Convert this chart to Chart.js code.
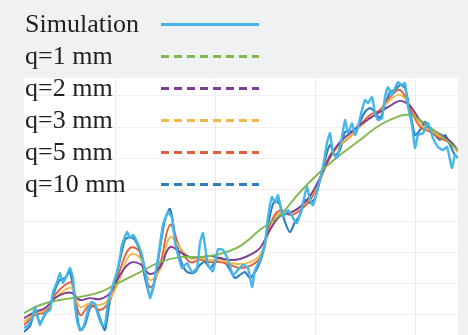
<!DOCTYPE html>
<html>
<head>
<meta charset="utf-8">
<script src="https://cdn.jsdelivr.net/npm/chart.js@4.4.1/dist/chart.umd.min.js"></script>
<style>
  html, body { margin: 0; padding: 0; background: #f0f1f3; }
  #wrap { width: 468px; height: 335px; position: relative; }
</style>
</head>
<body>
<div id="wrap"><canvas id="chart" width="468" height="335"></canvas></div>
<script>
// Series labels
const seriesLabels = ['Simulation', 'q=1 mm', 'q=2 mm', 'q=3 mm', 'q=5 mm', 'q=10 mm'];

// Simulation signal
const simX = [9,13,17,20,23,25,28,30,35,38,42,45,48,52,55,58,60,63,67,70,73,77,80,83,87,90,93,97,100,102,105,107,112,115,118,122,127,132,135,138,143,148,153,157,160,163,167,172,177,182,185,188,190,193,198,203,208,213,218,223,228,233,237,240,245,250,253,257,260,263,268,273,278,282,287,292,295,298,303,308,312,315,318,322,327,330,333,337,340,343,347,350,353,357,360,363,367,370,373,377,380,383,387,390,393,397,400,403,408,413,418,423,428,432,435,437,440,443];
const simY = [-0.42,-0.32,-0.10,0.26,-0.10,-0.32,-0.10,0.06,0.16,0.73,1.05,1.34,1.02,1.28,1.50,1.18,0.32,-0.32,-0.48,-0.22,0.16,0.42,0.35,0.00,-0.32,-0.32,0.42,0.86,1.18,1.37,1.85,2.24,2.65,2.46,2.56,2.33,1.92,1.05,0.54,0.86,1.82,2.88,3.29,3.10,2.33,1.92,1.50,1.66,1.37,1.50,2.30,2.62,2.20,1.60,1.40,2.10,2.08,1.76,1.28,1.44,1.60,1.50,0.89,1.44,1.76,2.30,3.13,3.77,3.58,3.83,3.13,3.35,3.10,2.94,3.45,4.09,3.67,3.51,4.09,4.73,5.50,5.81,5.18,5.02,5.69,6.23,5.81,6.13,5.75,6.01,6.55,6.87,6.77,6.96,6.45,6.23,6.29,6.96,7.28,7.03,7.25,7.44,7.35,7.41,6.65,6.07,5.34,5.75,5.81,6.13,5.65,5.37,5.27,5.37,4.95,4.70,5.11,5.02];

// q = 10 mm
const q10X = [9,15,20,25,30,35,40,45,50,55,60,65,70,75,80,85,90,95,100,105,110,115,120,125,130,135,140,145,150,155,160,165,170,175,180,185,190,195,200,205,210,215,220,225,230,235,240,245,250,255,260,265,270,275,280,285,290,295,300,305,310,315,320,325,330,335,340,345,350,355,360,365,370,375,380,385,390,395,400,405,410,415,420,425,430,435,440,443];
const q10Y = [-0.54,-0.35,0.10,-0.22,0.00,0.29,0.80,1.12,1.18,1.37,0.48,-0.48,-0.32,0.22,0.32,-0.10,-0.48,0.48,1.05,1.76,2.40,2.49,2.40,2.01,1.18,0.61,1.12,2.14,3.04,3.39,2.56,1.82,1.44,1.34,1.37,1.60,1.69,1.50,1.69,1.82,1.69,1.44,1.18,1.28,1.37,1.18,1.37,1.69,2.24,3.19,3.67,3.51,2.97,2.65,2.97,3.19,3.67,3.58,3.74,4.31,4.95,5.43,5.11,5.27,5.85,5.85,5.91,6.17,6.49,6.61,6.49,6.29,6.71,7.12,7.19,7.35,7.25,6.55,5.75,5.91,6.17,5.91,5.75,5.59,5.75,5.43,5.11,5.02];

// q = 5, 3, 2 mm share one sampling grid
const qMidX = [9,20,30,40,50,57,65,75,85,95,105,115,125,135,145,155,165,175,185,195,205,215,225,235,245,255,265,275,285,295,305,315,325,335,345,355,365,375,385,395,405,415,425,435,443];
const q5Y = [-0.32,0.00,0.10,0.64,0.96,1.02,0.00,0.32,0.16,0.48,1.44,2.14,2.01,0.89,1.60,2.88,2.14,1.69,1.76,1.69,1.69,1.60,1.50,1.57,1.82,2.88,3.35,3.19,3.35,3.67,4.31,5.11,5.43,5.69,6.07,6.39,6.55,6.96,7.19,6.61,6.01,5.85,5.65,5.50,5.21];
const q3Y = [-0.22,0.06,0.16,0.54,0.80,0.86,0.26,0.38,0.32,0.54,1.18,1.92,1.82,1.12,1.44,2.49,2.14,1.82,1.82,1.76,1.76,1.66,1.63,1.69,1.92,2.72,3.26,3.26,3.45,3.77,4.31,5.02,5.43,5.72,6.01,6.29,6.49,6.87,7.03,6.71,6.10,5.91,5.72,5.53,5.21];
const q2Y = [-0.10,0.10,0.22,0.54,0.70,0.70,0.48,0.54,0.51,0.70,1.28,1.66,1.63,1.31,1.53,2.17,2.01,1.85,1.85,1.88,1.82,1.76,1.79,1.92,2.14,2.72,3.16,3.26,3.45,3.80,4.38,5.05,5.53,5.81,6.07,6.29,6.49,6.68,6.84,6.68,6.23,5.97,5.78,5.56,5.27];

// q = 1 mm
const q1X = [9,25,45,65,85,105,125,145,165,185,205,225,245,265,285,305,325,345,365,385,395,405,425,443];
const q1Y = [0.06,0.32,0.48,0.58,0.73,1.05,1.37,1.69,1.85,1.85,1.95,2.20,2.72,3.19,3.93,4.57,5.11,5.59,6.07,6.36,6.39,6.23,5.75,5.27];

// Grid positions
const xTicks = [100, 200, 300, 400];
const yTicks = [0, 1, 2, 3, 4, 5, 6, 7];

const colors = ['#45b6e8', '#80b84c', '#7d3c98', '#f2b84b', '#e0603a', '#2b7fc0'];

const pts = (xs, ys) => xs.map((x, i) => ({ x: x, y: ys[i] }));
const seriesData = [
  pts(simX, simY), pts(q1X, q1Y), pts(qMidX, q2Y),
  pts(qMidX, q3Y), pts(qMidX, q5Y), pts(q10X, q10Y)
];
const tensions = [0.15, 0.4, 0.4, 0.4, 0.4, 0.25];
const widths = [2.4, 1.9, 1.9, 1.9, 1.9, 2.1];

// White plotting area behind the lines
const plotBackground = {
  id: 'plotBackground',
  beforeDraw(chart) {
    const { ctx, chartArea: a } = chart;
    ctx.save();
    ctx.fillStyle = '#ffffff';
    ctx.fillRect(a.left, a.top, a.right - a.left, a.bottom - a.top);
    ctx.restore();
  }
};

// Legend: label on the left, line sample on the right
const sideLegend = {
  id: 'sideLegend',
  afterDraw(chart) {
    const ctx = chart.ctx;
    ctx.save();
    ctx.font = '26px "Liberation Serif", "Times New Roman", serif';
    ctx.textBaseline = 'alphabetic';
    chart.data.datasets.forEach((ds, i) => {
      const base = 32 + i * 32;
      ctx.fillStyle = '#222222';
      ctx.fillText(ds.label, 25, base);
      ctx.strokeStyle = ds.borderColor;
      ctx.lineWidth = 3;
      ctx.setLineDash(i === 0 ? [] : [8, 5]);
      ctx.beginPath();
      ctx.moveTo(161, base - 7.5);
      ctx.lineTo(259, base - 7.5);
      ctx.stroke();
    });
    ctx.restore();
  }
};

new Chart(document.getElementById('chart'), {
  type: 'line',
  data: {
    datasets: seriesLabels.map((label, i) => ({
      label: label,
      data: seriesData[i],
      borderColor: colors[i],
      borderWidth: widths[i],
      pointRadius: 0,
      tension: tensions[i],
      fill: false
    }))
  },
  options: {
    responsive: false,
    animation: false,
    layout: { padding: { left: 24, right: 10, top: 78, bottom: 0 } },
    plugins: { legend: { display: false }, tooltip: { enabled: false } },
    scales: {
      x: {
        type: 'linear', min: 9, max: 443,
        afterBuildTicks: s => { s.ticks = xTicks.map(v => ({ value: v })); },
        ticks: { display: false },
        grid: { color: '#ececee', lineWidth: 1, drawTicks: false },
        border: { display: false }
      },
      y: {
        type: 'linear', min: -0.639, max: 7.572,
        afterBuildTicks: s => { s.ticks = yTicks.map(v => ({ value: v })); },
        ticks: { display: false },
        grid: { color: '#f0f0f2', lineWidth: 1, drawTicks: false },
        border: { display: false }
      }
    }
  },
  plugins: [plotBackground, sideLegend]
});
</script>
</body>
</html>
